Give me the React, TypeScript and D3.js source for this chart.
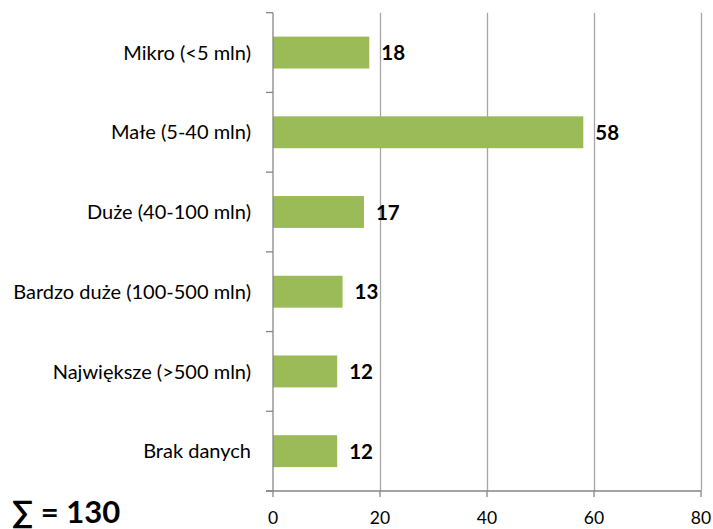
import { useEffect, useRef } from 'react';
import * as d3 from 'd3';

const categories = [
  'Mikro (<5 mln)',
  'Małe (5-40 mln)',
  'Duże (40-100 mln)',
  'Bardzo duże (100-500 mln)',
  'Największe (>500 mln)',
  'Brak danych',
];
const values = [18, 58, 17, 13, 12, 12];
const xTicks = [0, 20, 40, 60, 80];
const totalLabel = '∑ = 130';

export default function App() {
  const svgRef = useRef<SVGSVGElement>(null);

  useEffect(() => {
    if (!svgRef.current) return;
    const svg = d3.select(svgRef.current);
    svg.selectAll('*').remove();

    const width = 713;
    const height = 529;
    const left = 273;
    const right = 701;
    const top = 12.7;
    const bottom = 491;
    const font = 'Lato, Carlito, Calibri, sans-serif';

    svg.append('rect').attr('width', width).attr('height', height).attr('fill', 'white');

    const x = d3.scaleLinear().domain([0, 80]).range([left, right]);
    const y = d3.scaleBand<number>()
      .domain(d3.range(categories.length))
      .range([top, bottom])
      .paddingInner(0.6)
      .paddingOuter(0.3);
    const step = (bottom - top) / categories.length;

    // gridlines
    svg.append('g')
      .selectAll('line')
      .data(xTicks.slice(1))
      .enter().append('line')
      .attr('x1', d => x(d) + 0.5)
      .attr('x2', d => x(d) + 0.5)
      .attr('y1', top)
      .attr('y2', bottom)
      .attr('stroke', '#a6a6a6')
      .attr('stroke-width', 1.3);

    // bars
    svg.append('g')
      .selectAll('rect')
      .data(values)
      .enter().append('rect')
      .attr('x', x(0))
      .attr('y', (_, i) => y(i)!)
      .attr('width', d => x(d) - x(0))
      .attr('height', y.bandwidth())
      .attr('fill', '#9bbb59');

    // value labels
    svg.append('g')
      .selectAll('text')
      .data(values)
      .enter().append('text')
      .attr('x', d => x(d) + 12)
      .attr('y', (_, i) => y(i)! + y.bandwidth() / 2)
      .attr('dy', '0.38em')
      .style('font-family', font)
      .style('font-size', '20.5px')
      .style('font-weight', 'bold')
      .attr('fill', '#000')
      .text(d => d);

    // y axis
    const axisColor = '#868686';
    svg.append('line')
      .attr('x1', left).attr('x2', left)
      .attr('y1', top).attr('y2', bottom)
      .attr('stroke', axisColor).attr('stroke-width', 1.3);
    svg.append('g')
      .selectAll('line')
      .data(d3.range(categories.length + 1))
      .enter().append('line')
      .attr('x1', left - 7).attr('x2', left)
      .attr('y1', i => top + i * step)
      .attr('y2', i => top + i * step)
      .attr('stroke', axisColor).attr('stroke-width', 1.3);
    svg.append('g')
      .selectAll('text')
      .data(categories)
      .enter().append('text')
      .attr('x', 251)
      .attr('y', (_, i) => y(i)! + y.bandwidth() / 2)
      .attr('dy', '0.36em')
      .attr('text-anchor', 'end')
      .style('font-family', font)
      .style('font-size', '20px')
      .attr('fill', '#000')
      .text(d => d);

    // x axis
    svg.append('line')
      .attr('x1', left - 7).attr('x2', right)
      .attr('y1', bottom).attr('y2', bottom)
      .attr('stroke', axisColor).attr('stroke-width', 1.3);
    svg.append('g')
      .selectAll('line')
      .data(xTicks)
      .enter().append('line')
      .attr('x1', d => x(d)).attr('x2', d => x(d))
      .attr('y1', bottom).attr('y2', bottom + 6)
      .attr('stroke', axisColor).attr('stroke-width', 1.3);
    svg.append('g')
      .selectAll('text')
      .data(xTicks)
      .enter().append('text')
      .attr('x', d => x(d))
      .attr('y', 524)
      .attr('text-anchor', 'middle')
      .style('font-family', font)
      .style('font-size', '17.5px')
      .attr('fill', '#000')
      .text(d => d);

    svg.append('text')
      .attr('x', 12)
      .attr('y', 523)
      .style('font-family', font)
      .style('font-size', '31px')
      .style('font-weight', 'bold')
      .attr('fill', '#000')
      .text(totalLabel);
  }, []);

  return (
    <svg
      ref={svgRef}
      width={713}
      height={529}
      style={{ position: 'absolute', left: 0, top: 0, display: 'block' }}
    />
  );
}
